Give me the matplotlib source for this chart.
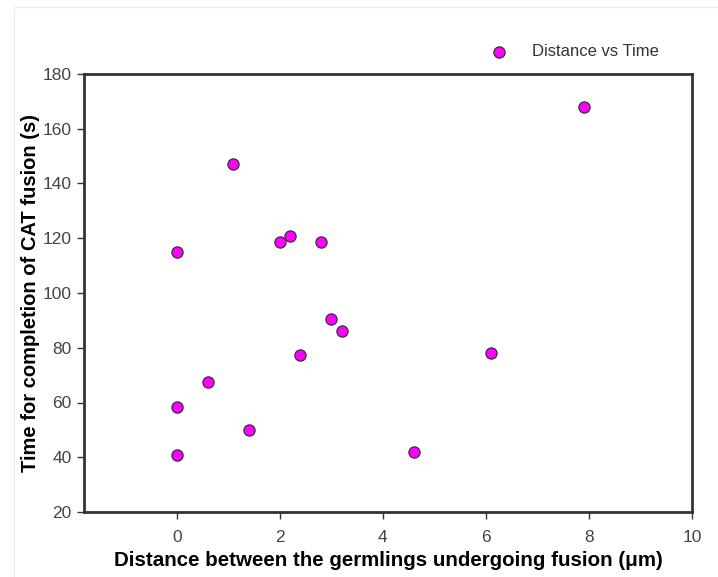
import matplotlib

matplotlib.use("Agg")
import matplotlib.pyplot as plt
from matplotlib.patches import Rectangle

plt.rcParams["font.family"] = ["Liberation Sans", "DejaVu Sans"]

# data
distance_um = [0.0, 0.0, 0.0, 0.6, 1.1, 1.4, 2.0, 2.2, 2.4, 2.8, 3.0, 3.2, 4.6, 6.1, 7.9]
time_s = [115, 58.5, 41, 67.5, 147, 50, 118.5, 121, 77.5, 118.5, 90.5, 86, 42, 78, 168]

x_ticks = [0, 2, 4, 6, 8, 10]
y_ticks = [20, 40, 60, 80, 100, 120, 140, 160, 180]

AXIS = "#333333"
MAGENTA = "#ff00ff"

fig = plt.figure(figsize=(7.18, 5.77), dpi=100)
fig.patches.append(
    Rectangle((14 / 718, -0.1), 1.2, 1.1 - 7 / 577, transform=fig.transFigure,
              fill=False, ec="#eeeeee", lw=1)
)
ax = fig.add_axes([84 / 718, 1 - 512 / 577, (692 - 84) / 718, (512 - 74) / 577])

ax.scatter(distance_um, time_s, s=65, c=MAGENTA, edgecolors="#333333",
           linewidths=0.9, zorder=3, label="Distance vs Time")

ax.set_xlim(-1.8, 10)
ax.set_ylim(20, 180)
ax.set_xticks(x_ticks)
ax.set_yticks(y_ticks)
ax.tick_params(direction="out", length=5, width=1, colors=AXIS, labelsize=12.5)
ax.tick_params(axis="x", pad=8)
ax.tick_params(axis="y", pad=4)
for lbl in ax.get_xticklabels() + ax.get_yticklabels():
    lbl.set_color("#444444")

for side in ax.spines.values():
    side.set_linewidth(2)
    side.set_color(AXIS)

ax.set_xlabel("Distance between the germlings undergoing fusion (\u03bcm)",
              fontsize=14.8, fontweight="bold", labelpad=4)
ax.set_ylabel("Time for completion of CAT fusion (s)",
              fontsize=14.5, fontweight="bold", labelpad=2)

ax.legend(loc="lower left", bbox_to_anchor=(0.63, 1.0), frameon=False,
          fontsize=12, handletextpad=1.0, labelcolor="#333333")

fig.savefig("out.png", dpi=100)
